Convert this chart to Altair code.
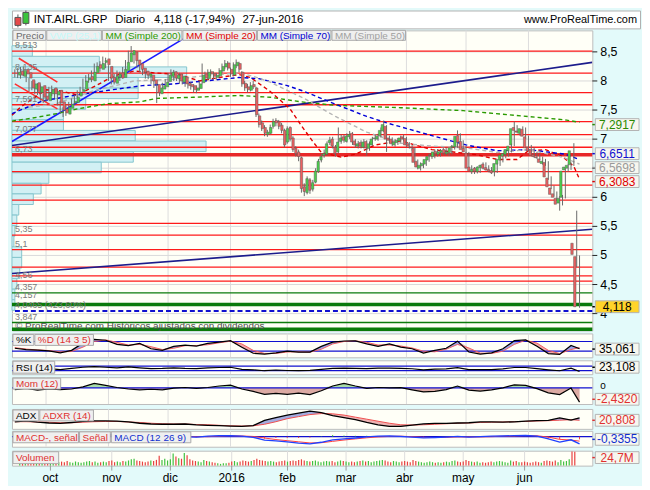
import altair as alt
import pandas as pd
import numpy as np

FONT = "Liberation Sans"
W = 584
H_HDR, H_MAIN, H_K, H_RSI, H_MOM, H_ADX, H_MACD, H_VOL = 18, 302, 24, 14, 27, 20, 16, 15

# ---------------- daily prices (16-sep-2015 .. 27-jun-2016) ----------------
OPEN = [
    8.10, 8.17, 8.08, 8.20, 8.14, 8.02, 7.86, 7.97, 7.80, 7.92,
    7.74, 7.66, 7.78, 7.88, 7.76, 7.84, 7.64, 7.52, 7.43, 7.53,
    7.62, 7.63, 7.74, 7.82, 7.86, 8.02, 8.08, 8.00, 8.14, 8.28,
    8.20, 8.32, 8.38, 8.25, 8.06, 7.96, 8.06, 8.14, 8.06, 8.18,
    8.33, 8.45, 8.50, 8.36, 8.30, 8.22, 8.17, 8.08, 8.10, 8.02,
    7.94, 7.78, 7.86, 7.90, 7.99, 8.08, 8.16, 8.04, 8.12, 7.98,
    8.06, 7.96, 7.94, 7.92, 7.84, 7.87, 7.97, 8.12, 8.04, 8.16,
    8.13, 8.06, 8.09, 8.17, 8.24, 8.31, 8.20, 8.10, 8.26, 8.30,
    8.15, 7.96, 7.90, 7.84, 7.94, 7.88, 7.40, 7.28, 7.20, 7.08,
    7.10, 7.22, 7.32, 7.30, 7.24, 7.15, 6.95, 7.20, 7.02, 6.84,
    6.78, 6.68, 6.18, 6.08, 6.30, 6.14, 6.26, 6.44, 6.64, 6.72,
    6.74, 6.94, 7.00, 6.86, 6.78, 6.96, 7.04, 6.96, 7.04, 7.10,
    6.97, 6.88, 6.94, 6.86, 6.96, 6.84, 6.90, 7.01, 7.00, 7.06,
    7.14, 7.22, 7.02, 7.00, 6.90, 6.94, 6.97, 7.04, 7.01, 6.92,
    6.86, 6.84, 6.62, 6.50, 6.54, 6.57, 6.64, 6.71, 6.70, 6.79,
    6.74, 6.77, 6.82, 6.75, 6.77, 6.86, 6.87, 7.06, 6.96, 6.84,
    6.76, 6.52, 6.44, 6.50, 6.44, 6.51, 6.57, 6.51, 6.48, 6.46,
    6.44, 6.57, 6.64, 6.71, 6.74, 6.80, 6.90, 7.20, 7.14, 7.10,
    7.17, 7.04, 6.86, 6.82, 6.73, 6.69, 6.66, 6.58, 6.60, 6.33,
    6.16, 6.06, 5.98, 5.90, 6.00, 6.47, 6.50, 6.56, 5.21, 4.98,
]
HIGH = [
    8.20, 8.22, 8.24, 8.25, 8.16, 8.05, 8.00, 8.00, 7.96, 7.94,
    7.78, 7.84, 7.90, 7.92, 7.87, 7.86, 7.66, 7.55, 7.58, 7.64,
    7.70, 7.76, 7.84, 7.90, 8.04, 8.10, 8.12, 8.18, 8.30, 8.32,
    8.34, 8.42, 8.40, 8.27, 8.10, 8.12, 8.18, 8.16, 8.24, 8.36,
    8.52, 8.60, 8.53, 8.40, 8.33, 8.26, 8.20, 8.17, 8.13, 8.05,
    7.97, 7.92, 7.97, 8.03, 8.14, 8.20, 8.19, 8.16, 8.14, 8.12,
    8.09, 8.00, 7.98, 7.94, 7.92, 8.00, 8.30, 8.16, 8.20, 8.20,
    8.16, 8.14, 8.22, 8.30, 8.36, 8.34, 8.23, 8.32, 8.37, 8.33,
    8.17, 8.00, 7.95, 7.98, 8.00, 7.90, 7.44, 7.32, 7.24, 7.16,
    7.25, 7.35, 7.36, 7.33, 7.28, 7.18, 7.22, 7.22, 7.05, 6.88,
    6.82, 6.70, 6.24, 6.36, 6.33, 6.30, 6.50, 6.66, 6.75, 6.82,
    6.96, 7.04, 7.04, 6.90, 7.20, 7.08, 7.08, 7.10, 7.14, 7.12,
    7.00, 6.97, 6.98, 7.00, 6.98, 6.96, 7.04, 7.08, 7.09, 7.20,
    7.32, 7.24, 7.06, 7.03, 7.00, 7.02, 7.06, 7.08, 7.04, 6.95,
    6.90, 6.86, 6.65, 6.60, 6.63, 6.70, 6.75, 6.78, 6.82, 6.83,
    6.83, 6.85, 6.86, 6.82, 6.90, 6.93, 7.15, 7.10, 6.98, 6.88,
    6.78, 6.55, 6.52, 6.53, 6.56, 6.60, 6.60, 6.55, 6.52, 6.50,
    6.62, 6.70, 6.76, 6.80, 6.86, 6.93, 7.30, 7.24, 7.18, 7.22,
    7.20, 7.06, 6.90, 6.86, 6.78, 6.74, 6.70, 6.66, 6.62, 6.36,
    6.20, 6.10, 6.02, 6.04, 6.50, 6.57, 6.60, 6.93, 5.77, 5.00,
]
LOW = [
    8.06, 8.05, 8.04, 8.08, 7.98, 7.82, 7.84, 7.78, 7.76, 7.66,
    7.62, 7.64, 7.74, 7.74, 7.70, 7.58, 7.44, 7.38, 7.40, 7.50,
    7.58, 7.60, 7.70, 7.78, 7.84, 7.98, 7.97, 7.98, 8.10, 8.18,
    8.16, 8.28, 8.22, 8.00, 7.94, 7.94, 8.02, 8.00, 8.04, 8.15,
    8.30, 8.42, 8.30, 8.22, 8.15, 8.10, 8.04, 8.03, 7.95, 7.88,
    7.62, 7.74, 7.82, 7.87, 7.96, 8.05, 8.00, 8.00, 7.95, 7.94,
    7.90, 7.87, 7.85, 7.80, 7.79, 7.84, 7.95, 8.00, 8.01, 8.08,
    8.03, 8.02, 8.06, 8.14, 8.20, 8.18, 8.07, 8.08, 8.22, 8.15,
    7.90, 7.83, 7.80, 7.82, 7.86, 7.38, 7.20, 7.14, 7.05, 7.04,
    7.08, 7.18, 7.22, 7.17, 7.10, 6.86, 6.92, 6.96, 6.78, 6.70,
    6.62, 6.08, 6.02, 6.05, 6.06, 6.10, 6.24, 6.42, 6.60, 6.68,
    6.72, 6.90, 6.84, 6.70, 6.76, 6.92, 6.94, 6.94, 7.00, 6.90,
    6.85, 6.84, 6.84, 6.84, 6.72, 6.80, 6.88, 6.97, 6.97, 7.03,
    7.12, 6.78, 6.93, 6.88, 6.87, 6.90, 6.94, 6.96, 6.86, 6.84,
    6.80, 6.56, 6.48, 6.46, 6.50, 6.54, 6.61, 6.66, 6.67, 6.70,
    6.70, 6.73, 6.72, 6.71, 6.74, 6.82, 6.85, 6.90, 6.78, 6.73,
    6.46, 6.40, 6.40, 6.41, 6.42, 6.48, 6.46, 6.43, 6.40, 6.36,
    6.42, 6.54, 6.60, 6.67, 6.70, 6.77, 6.88, 7.10, 7.06, 7.06,
    7.00, 6.80, 6.75, 6.68, 6.66, 6.64, 6.56, 6.54, 6.30, 6.14,
    6.01, 5.95, 5.77, 5.86, 5.98, 6.44, 6.47, 6.54, 4.80, 4.10,
]
CLOSE = [
    8.15, 8.10, 8.18, 8.12, 8.05, 7.88, 7.95, 7.82, 7.90, 7.72,
    7.68, 7.80, 7.85, 7.78, 7.82, 7.62, 7.50, 7.45, 7.55, 7.60,
    7.65, 7.72, 7.80, 7.85, 8.00, 8.05, 8.02, 8.15, 8.25, 8.22,
    8.30, 8.35, 8.28, 8.05, 7.98, 8.08, 8.12, 8.05, 8.20, 8.32,
    8.48, 8.52, 8.35, 8.28, 8.20, 8.15, 8.10, 8.12, 8.00, 7.95,
    7.80, 7.88, 7.92, 7.98, 8.10, 8.15, 8.05, 8.10, 8.00, 8.08,
    7.95, 7.92, 7.90, 7.85, 7.88, 7.95, 8.10, 8.05, 8.15, 8.12,
    8.08, 8.10, 8.18, 8.25, 8.30, 8.22, 8.12, 8.28, 8.32, 8.20,
    7.95, 7.88, 7.85, 7.92, 7.90, 7.42, 7.25, 7.18, 7.10, 7.12,
    7.20, 7.30, 7.28, 7.22, 7.15, 6.90, 7.18, 7.00, 6.82, 6.75,
    6.70, 6.15, 6.10, 6.32, 6.12, 6.25, 6.45, 6.62, 6.70, 6.75,
    6.92, 6.98, 6.88, 6.75, 6.95, 7.02, 6.98, 7.05, 7.08, 6.95,
    6.90, 6.92, 6.88, 6.95, 6.85, 6.92, 7.00, 7.02, 7.05, 7.15,
    7.25, 7.00, 6.98, 6.92, 6.95, 6.98, 7.02, 7.00, 6.90, 6.88,
    6.85, 6.60, 6.52, 6.55, 6.58, 6.65, 6.70, 6.72, 6.78, 6.75,
    6.78, 6.80, 6.76, 6.78, 6.85, 6.88, 7.05, 6.95, 6.82, 6.78,
    6.50, 6.45, 6.48, 6.45, 6.52, 6.55, 6.50, 6.47, 6.45, 6.42,
    6.58, 6.65, 6.72, 6.75, 6.82, 6.88, 7.18, 7.15, 7.12, 7.18,
    7.05, 6.85, 6.80, 6.72, 6.70, 6.68, 6.60, 6.62, 6.35, 6.18,
    6.05, 6.00, 5.88, 5.98, 6.45, 6.52, 6.55, 6.80, 5.018, 4.118,
]
VOLUME = [  # millions
    9, 7, 6, 8, 7, 6, 8, 7, 6, 7,
    7, 6, 8, 5, 6, 7, 6, 8, 6, 5,
    7, 6, 5, 6, 7, 8, 6, 7, 5, 6,
    7, 6, 8, 9, 6, 7, 6, 8, 7, 9,
    11, 12, 9, 8, 7, 6, 7, 9, 8, 10,
    17, 10, 12, 9, 11, 21, 16, 13, 12, 22,
    18, 11, 9, 8, 7, 6, 10, 8, 7, 6,
    5, 4, 3, 4, 4, 5, 7, 8, 6, 7,
    9, 8, 7, 8, 10, 12, 10, 9, 8, 7,
    8, 7, 6, 7, 8, 9, 7, 8, 9, 8,
    10, 11, 9, 8, 7, 8, 9, 7, 6, 7,
    8, 7, 8, 6, 7, 9, 8, 7, 6, 7,
    6, 7, 8, 9, 7, 8, 6, 7, 8, 9,
    10, 9, 7, 6, 8, 7, 6, 7, 8, 7,
    6, 10, 8, 7, 6, 5, 6, 7, 6, 5,
    6, 5, 6, 7, 6, 8, 9, 7, 6, 7,
    10, 8, 7, 6, 7, 5, 6, 5, 6, 7,
    6, 7, 8, 7, 6, 5, 9, 7, 8, 6,
    6, 7, 6, 5, 6, 7, 6, 5, 8, 9,
    8, 7, 9, 6, 10, 7, 8, 11, 24.7, 24,
]

MONTH_IDX = [11, 33, 54, 76, 96, 117, 138, 159, 181]
MONTH_LBL = ["oct", "nov", "dic", "2016", "feb", "mar", "abr", "may", "jun"]

PRICE_TICKS = [4, 4.5, 5, 5.5, 6, 6.5, 7, 7.5, 8, 8.5]
PRICE_TICK_LBL = ["4", "4,5", "5", "5,5", "6", "", "7", "7,5", "8", "8,5"]  # 6,5 is hidden under the value boxes

# ---------------- moving averages (read at points) ----------------
MA200_I = [-1, 6, 15, 22, 33, 44, 50, 63, 79, 90, 101, 113, 136, 158, 176, 194, 199]
MA200_V = [7.31, 7.36, 7.44, 7.52, 7.61, 7.64, 7.70, 7.72, 7.75, 7.72, 7.64, 7.58, 7.54, 7.49, 7.41, 7.33, 7.29]
MA20_I = [-1, 2, 11, 16, 22, 29, 35, 42, 49, 58, 65, 72, 79, 83, 90, 97, 101, 105, 108, 115, 120, 127, 136, 141, 147, 156, 163, 170, 177, 181, 187, 193, 197, 199]
MA20_V = [7.41, 7.55, 7.85, 7.83, 7.76, 7.93, 8.09, 8.17, 8.14, 8.11, 8.00, 8.06, 8.11, 8.06, 7.82, 7.52, 7.23, 6.96, 6.77, 6.69, 6.74, 6.90, 6.97, 6.90, 6.82, 6.77, 6.73, 6.65, 6.65, 6.80, 6.82, 6.70, 6.53, 6.31]
MA70_I = [-1, 10, 22, 33, 45, 56, 67, 79, 86, 96, 102, 113, 124, 131, 147, 159, 170, 181, 194, 199]
MA70_V = [7.44, 7.66, 7.76, 7.84, 7.92, 7.95, 8.00, 8.06, 8.04, 7.92, 7.82, 7.60, 7.39, 7.28, 7.06, 6.90, 6.80, 6.82, 6.74, 6.65]
MA50_I = [5, 14, 27, 42, 56, 67, 79, 84, 90, 102, 113, 124, 136, 147, 159, 170, 181, 193, 199]
MA50_V = [7.55, 7.60, 7.82, 8.00, 8.03, 8.09, 8.14, 8.08, 7.98, 7.70, 7.39, 7.12, 6.93, 6.88, 6.85, 6.77, 6.82, 6.69, 6.57]

# ---------------- drawn levels and trend lines ----------------
RED_LEVELS = [8.513, 8.135, 7.80, 7.591, 7.30, 7.077, 6.86, 6.44, 6.21, 5.95, 5.55, 5.35, 5.10, 4.80, 4.65, 4.56]
RED_THICK = [6.73]
GREEN_THIN = [4.357, 3.847]
GREEN_THICK = [4.157, 3.73]
BLUE_DASH = [4.0465]
TL_ID = ["a", "a", "b", "b", "c", "c", "d", "d", "e", "e"]
TL_I = [-1, 62, -1, 203.5, -1, 203.5, 1.4, 15, 0, 15]
TL_V = [6.96, 8.80, 6.89, 8.32, 4.69, 5.45, 8.39, 7.98, 7.95, 7.52]

LL_POS = [8.513, 8.135, 7.591, 7.077, 6.73, 5.35, 5.1, 4.56, 4.357, 4.21, 4.0465, 3.847]
LL_TXT = ["8,513", "8,135", "7,591", "7,077", "6,73", "5,35", "5,1", "4,56", "4,357", "4,157", "4,0465 (423,60%)", "3,847"]

# right-hand value boxes: displayed position, text, colour, fill
RV_POS = [7.25, 6.75, 6.51, 6.27, 4.118]
RV_TXT = ["7,2917", "6,6511", "6,5698", "6,3083", "4,118"]
RV_COL = ["#2a8a00", "#1010d0", "#9a9a9a", "#e00000", "#000000"]
RV_FILL = ["#f7f7ef", "#f7f7ef", "#f7f7ef", "#f7f7ef", "#ffd42a"]

# ---------------- volume profile ----------------
VP_HI = [8.606, 8.424, 8.242, 8.060, 7.878, 7.696, 7.514, 7.332, 7.150, 6.968, 6.786, 6.604, 6.422,
         6.240, 6.058, 5.876, 5.694, 5.512, 5.330, 5.148, 4.966, 4.784, 4.602, 4.420, 4.238]
VP_LO = [8.424, 8.242, 8.060, 7.878, 7.696, 7.514, 7.332, 7.150, 6.968, 6.786, 6.604, 6.422, 6.240,
         6.058, 5.876, 5.694, 5.512, 5.330, 5.148, 4.966, 4.784, 4.602, 4.420, 4.238, 4.056]
VP_VOL = [21, 90, 180, 130, 130, 76, 53, 53, 127, 200, 125, 92, 38, 30, 22, 7, 5, 3, 2, 10, 10, 8, 5, 3, 3]

# ---------------- indicators (read every 4 sessions) ----------------
IND_I = list(range(0, 197, 4)) + [199]
K = [38, 30, 27, 22, 10, 25, 70, 93, 88, 62,
     55, 68, 35, 25, 50, 58, 52, 68, 76, 85,
     45, 7, 2, 10, 20, 14, 14, 50, 76, 83,
     84, 65, 50, 65, 45, 35, 8, 25, 38, 82,
     15, 2, 10, 35, 85, 90, 50, 5, 0, 55, 35]
D = [42, 33, 28, 24, 16, 18, 45, 80, 90, 75,
     58, 62, 48, 30, 38, 54, 55, 60, 72, 82,
     65, 25, 6, 6, 15, 16, 14, 32, 65, 80,
     84, 75, 58, 58, 52, 40, 20, 16, 32, 62,
     40, 8, 6, 20, 62, 88, 70, 25, 5, 30, 42]
RSI = [48, 45, 42, 48, 40, 50, 60, 66, 60, 55,
       63, 55, 48, 50, 55, 50, 48, 55, 58, 60,
       42, 38, 30, 36, 32, 30, 33, 42, 50, 52,
       51, 48, 52, 52, 50, 47, 38, 44, 46, 56,
       40, 40, 40, 46, 58, 58, 48, 38, 30, 52, 23]
MOM = [-0.3, -0.1, -0.4, -0.2, -0.3, -0.2, 0.15, 0.75, 0.4, 0.05,
       -0.2, -0.35, -0.25, -0.35, -0.05, 0.05, -0.1, 0.05, 0.3, 0.45,
       -0.2, -0.6, -1.1, -0.95, -1.1, -0.9, -1.15, -0.5, 0.3, 0.75,
       0.3, -0.1, 0.05, 0.0, 0.02, -0.35, -0.7, -0.6, -0.3, 0.3,
       -0.4, -0.55, -0.35, 0.0, 0.5, 0.4, -0.15, -0.85, -1.15, -0.05, -2.43]
ADX = [17.8, 19.5, 17, 15.5, 14.8, 16.5, 18.5, 19.6, 19.6, 19,
       17.5, 15, 13.5, 13, 13, 13.5, 12, 11, 10.2, 9.5,
       9, 10.5, 20.8, 26, 31, 35, 38.8, 36, 30, 26,
       22, 16.5, 12, 8.8, 8.8, 11.5, 13.8, 14.8, 14.8, 15.5,
       16, 17.5, 17.5, 17.2, 17.8, 19, 20, 20.8, 25.5, 21, 25.6]
ADXR = [18, 18, 17.5, 17, 16, 16, 17, 18, 18.5, 18.5,
        17.5, 16.5, 15, 14, 13.5, 13.5, 12.5, 12, 11, 10,
        9.5, 10, 13, 18, 24, 28, 32, 34, 33.5, 31,
        27, 23, 19, 15, 12, 11.5, 12, 13, 14, 15,
        15.5, 16.5, 17, 17.5, 18, 18.5, 19.5, 20, 21, 22, 20.8]
MACD = [-0.05, -0.08, -0.10, -0.11, -0.13, -0.11, -0.05, 0.04, 0.09, 0.08,
        0.11, 0.12, 0.06, 0.0, 0.01, 0.0, -0.02, 0.02, 0.04, 0.05,
        0.02, -0.03, -0.15, -0.19, -0.23, -0.29, -0.32, -0.25, -0.14, -0.10,
        -0.06, -0.01, 0.02, 0.03, 0.01, -0.02, -0.05, -0.04, -0.02, 0.01,
        -0.02, 0.0, 0.02, 0.03, 0.05, 0.055, 0.02, -0.10, -0.24, -0.14, -0.32]
SIGNAL = [-0.04, -0.06, -0.08, -0.10, -0.11, -0.11, -0.08, -0.02, 0.04, 0.07,
          0.09, 0.10, 0.09, 0.05, 0.03, 0.01, 0.0, 0.0, 0.02, 0.04,
          0.03, 0.01, -0.06, -0.13, -0.18, -0.23, -0.28, -0.27, -0.21, -0.15,
          -0.10, -0.05, -0.01, 0.01, 0.02, 0.0, -0.03, -0.04, -0.03, -0.01,
          -0.01, -0.01, 0.0, 0.02, 0.03, 0.045, 0.04, -0.02, -0.12, -0.15, -0.20]

# ---------------- tables ----------------
ohlc = pd.DataFrame({"i": list(range(len(CLOSE))), "open": OPEN, "high": HIGH, "low": LOW,
                     "close": CLOSE, "vol": VOLUME})
ohlc["dir"] = np.where(ohlc["close"] >= ohlc["open"], "up", "down")
ind = pd.DataFrame({"i": IND_I, "K": K, "D": D, "RSI": RSI, "MOM": MOM, "ADX": ADX, "ADXR": ADXR,
                    "MACD": MACD, "SIG": SIGNAL})
ma_rows = []
for name, ii, vv in [("MM200", MA200_I, MA200_V), ("MM20", MA20_I, MA20_V),
                     ("MM70", MA70_I, MA70_V), ("MM50", MA50_I, MA50_V)]:
    for a, b in zip(ii, vv):
        ma_rows.append({"name": name, "i": a, "v": b})
ma = pd.DataFrame(ma_rows)
tl = pd.DataFrame({"id": TL_ID, "i": TL_I, "v": TL_V})
vp = pd.DataFrame({"lo": VP_LO, "hi": VP_HI, "w": VP_VOL})
ticks = pd.DataFrame({"v": PRICE_TICKS, "t": PRICE_TICK_LBL})
months = pd.DataFrame({"i": MONTH_IDX, "t": MONTH_LBL})

ONE = alt.Data(values=[{"a": 1}])
XS = alt.Scale(domain=[-1, 203.5], nice=False, zero=False)
BOX_SHAPE = "M-1,-0.27L1,-0.27L1,0.27L-1,0.27Z"


def X(field="i"):
    return alt.X(f"{field}:Q", scale=XS, axis=None)


def box(x0, x1, y0, y1, fill="#efefef", stroke="#a9a9a9"):
    return alt.Chart(ONE).mark_rect(fill=fill, stroke=stroke, strokeWidth=1).encode(
        x=alt.value(x0), x2=alt.value(x1), y=alt.value(y0), y2=alt.value(y1))


def txt(x, y, s, color="#000000", size=10, align="left"):
    return alt.Chart(ONE).mark_text(text=s, color=color, fontSize=size, align=align,
                                    baseline="middle", font=FONT).encode(x=alt.value(x), y=alt.value(y))


def legend(items, y0=1, y1=12):
    out = []
    for s, x0, x1, c in items:
        out.append(box(x0, x1, y0, y1))
        out.append(txt(x0 + 3, (y0 + y1) / 2 + 0.5, s, c))
    return out


def rlabels(vals, texts, colors, fills, yscale, size=12):
    df = pd.DataFrame({"v": vals, "t": texts, "c": colors, "f": fills})
    b = alt.Chart(df).mark_point(shape=BOX_SHAPE, size=1936, filled=True, opacity=1,
                                 stroke="#b3b3b3", strokeWidth=1).encode(
        x=alt.value(W + 25), y=alt.Y("v:Q", scale=yscale, axis=None),
        fill=alt.Fill("f:N", scale=None))
    t = alt.Chart(df).mark_text(fontSize=size, font=FONT, align="center", baseline="middle").encode(
        x=alt.value(W + 25), y=alt.Y("v:Q", scale=yscale, axis=None), text="t:N",
        color=alt.Color("c:N", scale=None))
    d = alt.Chart(df).mark_rule(strokeWidth=1.5).encode(
        x=alt.value(W), x2=alt.value(W + 3), y=alt.Y("v:Q", scale=yscale, axis=None),
        color=alt.Color("c:N", scale=None))
    return [d, b, t]


def vgrid():
    return alt.Chart(months).mark_rule(color="#dddddd", strokeWidth=1).encode(x=X())


def hlines(vals, yscale, color, width=1.2, dash=None):
    kw = {"color": color, "strokeWidth": width}
    if dash:
        kw["strokeDash"] = dash
    return alt.Chart(pd.DataFrame({"v": vals})).mark_rule(**kw).encode(
        y=alt.Y("v:Q", scale=yscale, axis=None))


# ---------------- header ----------------
header = alt.layer(
    alt.Chart(ONE).mark_rule(color="#555555").encode(x=alt.value(6), y=alt.value(4), y2=alt.value(17)),
    alt.Chart(ONE).mark_rule(color="#555555").encode(x=alt.value(14), y=alt.value(0), y2=alt.value(15)),
    box(3, 9, 7, 15, fill="#e64a4a", stroke="#555555"),
    box(11, 17, 2, 13, fill="#3bc43b", stroke="#555555"),
    txt(22, 10, "INT.AIRL.GRP", size=11.5),
    txt(104, 10, "Diario", size=11.5),
    txt(143, 10, "4,118 (-17,94%)", size=11.5),
    txt(232, 10, "27-jun-2016", size=11.5),
    txt(629, 10, "www.ProRealTime.com", size=11, align="right"),
).properties(width=632, height=H_HDR, view=alt.ViewBackground(fill="white", stroke="#b0b0b0"))

# ---------------- main price panel ----------------
YM = alt.Scale(domain=[3.71, 8.87], nice=False, zero=False)

price_grid = alt.Chart(ticks).mark_rule(color="#dadada", strokeWidth=1).encode(
    y=alt.Y("v:Q", scale=YM, axis=None))
price_ticks = alt.Chart(ticks).mark_rule(color="#222222", strokeWidth=1).encode(
    x=alt.value(W), x2=alt.value(W + 5), y=alt.Y("v:Q", scale=YM, axis=None))
price_lbls = alt.Chart(ticks).mark_text(align="left", baseline="middle", fontSize=12.5, font=FONT,
                                        color="#000000").encode(
    x=alt.value(W + 8), y=alt.Y("v:Q", scale=YM, axis=None), text="t:N")

vp_layer = alt.Chart(vp).transform_calculate(z="0").mark_rect(
    fill="#d2f0f4", stroke="#85c6ce", strokeWidth=1).encode(
    x=alt.X("z:Q", scale=alt.Scale(domain=[0, 598], nice=False), axis=None), x2="w:Q",
    y=alt.Y("lo:Q", scale=YM, axis=None), y2="hi:Q")

trend = alt.Chart(tl).mark_line(strokeWidth=1.6, clip=True).encode(
    x=X(), y=alt.Y("v:Q", scale=YM, axis=None),
    color=alt.Color("id:N", scale=alt.Scale(domain=["a", "b", "c", "d", "e"],
                                            range=["#1a1aff", "#1c1c8c", "#1c1c8c", "#ff3030", "#ff3030"]),
                    legend=None))
ma_layer = alt.Chart(ma).mark_line(strokeWidth=1.4, strokeDash=[4, 3]).encode(
    x=X(), y=alt.Y("v:Q", scale=YM, axis=None),
    color=alt.Color("name:N", scale=alt.Scale(domain=["MM200", "MM20", "MM70", "MM50"],
                                              range=["#2a9a00", "#e00000", "#0000d8", "#b4b4b4"]),
                    legend=None))
wicks = alt.Chart(ohlc).mark_rule(color="#6a6a6a", strokeWidth=1).encode(
    x=X(), y=alt.Y("low:Q", scale=YM, axis=None), y2="high:Q")
bodies = alt.Chart(ohlc).mark_bar(size=2.4, stroke="#5a5a5a", strokeWidth=0.5).encode(
    x=X(), y=alt.Y("open:Q", scale=YM, axis=None), y2="close:Q",
    color=alt.Color("dir:N", scale=alt.Scale(domain=["up", "down"], range=["#4cd04c", "#ec6060"]),
                    legend=None))
left_labels = alt.Chart(pd.DataFrame({"v": LL_POS, "t": LL_TXT})).mark_text(
    align="left", baseline="bottom", dy=-1, fontSize=9, color="#7a7a7a", font=FONT).encode(
    x=alt.value(3), y=alt.Y("v:Q", scale=YM, axis=None), text="t:N")

main_legend = legend([("Precio", 1, 34, "#6a6a6a"), ("VWP (25,1)", 35, 90, "#c4fafa"),
                      ("MM (Simple 200)", 91, 171, "#2a9a00"), ("MM (Simple 20)", 172, 246, "#e00000"),
                      ("MM (Simple 70)", 247, 321, "#0000d0"), ("MM (Simple 50)", 322, 396, "#a0a0a0")],
                     0, 10)

main = alt.layer(
    vgrid(), price_grid, vp_layer,
    hlines(RED_LEVELS, YM, "#ff1a1a", 1.3), hlines(RED_THICK, YM, "#e82828", 3.5),
    hlines(GREEN_THIN, YM, "#0a7a0a", 1.3), hlines(GREEN_THICK, YM, "#0a7a0a", 3.5),
    hlines(BLUE_DASH, YM, "#1010d0", 2, [5, 3]),
    trend, ma_layer, wicks, bodies, left_labels,
    txt(3, H_MAIN - 4, "© ProRealTime.com   Históricos ajustados con dividendos", "#505050", 10),
    *main_legend,
    price_ticks, price_lbls,
    *rlabels(RV_POS, RV_TXT, RV_COL, RV_FILL, YM),
).resolve_scale(x="independent", color="independent").properties(width=W, height=H_MAIN)

# ---------------- %K / %D ----------------
YK = alt.Scale(domain=[-18, 130], nice=False, zero=False)
kpanel = alt.layer(
    vgrid(),
    alt.Chart(ind).transform_calculate(up="max(datum.K, datum.D)").mark_area(color="#9ba6ea").encode(
        x=X(), y=alt.Y("up:Q", scale=YK, axis=None), y2="D:Q"),
    alt.Chart(ind).transform_calculate(up="max(datum.K, datum.D)").mark_area(color="#f3aaaa").encode(
        x=X(), y=alt.Y("up:Q", scale=YK, axis=None), y2="K:Q"),
    hlines([80, 20], YK, "#1010d0", 1.2),
    alt.Chart(ind).mark_line(color="#f06060", strokeWidth=1).encode(x=X(), y=alt.Y("D:Q", scale=YK, axis=None)),
    alt.Chart(ind).mark_line(color="#000000", strokeWidth=1.2).encode(x=X(), y=alt.Y("K:Q", scale=YK, axis=None)),
    *legend([("%K", 1, 22, "#000000"), ("%D (14 3 5)", 23, 82, "#e03030")]),
    *rlabels([33], ["35,061"], ["#000000"], ["#f7f7ef"], YK),
).resolve_scale(color="independent").properties(width=W, height=H_K)

# ---------------- RSI ----------------
YR = alt.Scale(domain=[0, 120], nice=False, zero=False)
rsipanel = alt.layer(
    vgrid(),
    hlines([70, 30], YR, "#1010d0", 1.2),
    alt.Chart(ind).mark_line(color="#000000", strokeWidth=1.2).encode(x=X(), y=alt.Y("RSI:Q", scale=YR, axis=None)),
    *legend([("RSI (14)", 1, 43, "#000000")], 1, 13),
    *rlabels([60], ["23,108"], ["#000000"], ["#f7f7ef"], YR),
).resolve_scale(color="independent").properties(width=W, height=H_RSI)

# ---------------- Momentum ----------------
YMO = alt.Scale(domain=[-2.75, 1.8], nice=False, zero=False)
mom_base = alt.Chart(ind).transform_calculate(z="0", pos="max(datum.MOM, 0)", neg="min(datum.MOM, 0)")
mompanel = alt.layer(
    vgrid(),
    mom_base.mark_area(color="#a8dca8").encode(x=X(), y=alt.Y("pos:Q", scale=YMO, axis=None), y2="z:Q"),
    mom_base.mark_area(color="#dcaaa4").encode(x=X(), y=alt.Y("neg:Q", scale=YMO, axis=None), y2="z:Q"),
    hlines([0], YMO, "#1010d0", 1.2),
    alt.Chart(ind).mark_line(color="#000000", strokeWidth=1.2).encode(x=X(), y=alt.Y("MOM:Q", scale=YMO, axis=None)),
    *legend([("Mom (12)", 1, 49, "#e03030")]),
    alt.Chart(pd.DataFrame({"v": [0.25]})).mark_text(text="0", fontSize=10, font=FONT, align="left",
                                                     baseline="middle", color="#000000").encode(
        x=alt.value(W + 8), y=alt.Y("v:Q", scale=YMO, axis=None)),
    *rlabels([-1.95], ["-2,4320"], ["#e03030"], ["#f7f7ef"], YMO),
).resolve_scale(color="independent").properties(width=W, height=H_MOM)

# ---------------- ADX / ADXR ----------------
YA = alt.Scale(domain=[4, 43], nice=False, zero=False)
adx_base = alt.Chart(ind).transform_calculate(up="max(datum.ADX, datum.ADXR)")
adxpanel = alt.layer(
    vgrid(),
    adx_base.mark_area(color="#a4acde").encode(x=X(), y=alt.Y("up:Q", scale=YA, axis=None), y2="ADXR:Q"),
    adx_base.mark_area(color="#eeb2b2").encode(x=X(), y=alt.Y("up:Q", scale=YA, axis=None), y2="ADX:Q"),
    alt.Chart(ind).mark_line(color="#f05050", strokeWidth=1).encode(x=X(), y=alt.Y("ADXR:Q", scale=YA, axis=None)),
    alt.Chart(ind).mark_line(color="#000000", strokeWidth=1.3).encode(x=X(), y=alt.Y("ADX:Q", scale=YA, axis=None)),
    *legend([("ADX", 1, 27, "#000000"), ("ADXR (14)", 28, 82, "#e03030")]),
    *rlabels([20.8], ["20,808"], ["#e03030"], ["#f7f7ef"], YA),
).resolve_scale(color="independent").properties(width=W, height=H_ADX)

# ---------------- MACD ----------------
YMA = alt.Scale(domain=[-0.45, 0.26], nice=False, zero=False)
macd_base = alt.Chart(ind).transform_calculate(
    z="0", h="datum.MACD - datum.SIG", s="datum.MACD >= datum.SIG ? 'p' : 'n'")
macdpanel = alt.layer(
    vgrid(),
    hlines([0], YMA, "#1010d0", 1.2),
    macd_base.mark_rule(strokeWidth=1).encode(
        x=X(), y=alt.Y("h:Q", scale=YMA, axis=None), y2="z:Q",
        color=alt.Color("s:N", scale=alt.Scale(domain=["p", "n"], range=["#30c030", "#f04040"]), legend=None)),
    alt.Chart(ind).mark_line(color="#ff4040", strokeWidth=1).encode(x=X(), y=alt.Y("SIG:Q", scale=YMA, axis=None)),
    alt.Chart(ind).mark_line(color="#2040ff", strokeWidth=1.3).encode(x=X(), y=alt.Y("MACD:Q", scale=YMA, axis=None)),
    *legend([("MACD-, señal", 1, 67, "#e03030"), ("Señal", 68, 99, "#e03030"),
             ("MACD (12 26 9)", 100, 180, "#1030d0")]),
    *rlabels([-0.12], ["-0,3355"], ["#1030d0"], ["#f7f7ef"], YMA),
).resolve_scale(color="independent").properties(width=W, height=H_MACD)

# ---------------- Volume + month axis ----------------
YV = alt.Scale(domain=[0, 26], nice=False, zero=True)
volpanel = alt.layer(
    vgrid(),
    alt.Chart(ohlc).mark_bar(size=1.2).encode(
        x=X(), y=alt.Y("vol:Q", scale=YV, axis=None),
        color=alt.Color("dir:N", scale=alt.Scale(domain=["up", "down"], range=["#40c040", "#e84040"]),
                        legend=None)),
    *legend([("Volumen", 1, 47, "#e03030")], 1, 13),
    *rlabels([14], ["24,7M"], ["#e03030"], ["#f7f7ef"], YV),
    alt.Chart(months).mark_rule(color="#9a9a9a", strokeWidth=1).encode(
        x=X(), y=alt.value(H_VOL), y2=alt.value(H_VOL + 5)),
    alt.Chart(months).mark_text(fontSize=12, font=FONT, align="center", baseline="top", color="#000000").encode(
        x=X(), y=alt.value(H_VOL + 7), text="t:N"),
).resolve_scale(color="independent").properties(width=W, height=H_VOL)

chart = alt.vconcat(header, main, kpanel, rsipanel, mompanel, adxpanel, macdpanel, volpanel,
                    spacing=0).resolve_scale(color="independent", fill="independent").configure(
    background="#e3fafa", padding=0, font=FONT).configure_view(fill="#fffff7", stroke="#bcbcbc", strokeWidth=1)

chart.save("out.html", embed_options={"renderer": "svg", "actions": False})
